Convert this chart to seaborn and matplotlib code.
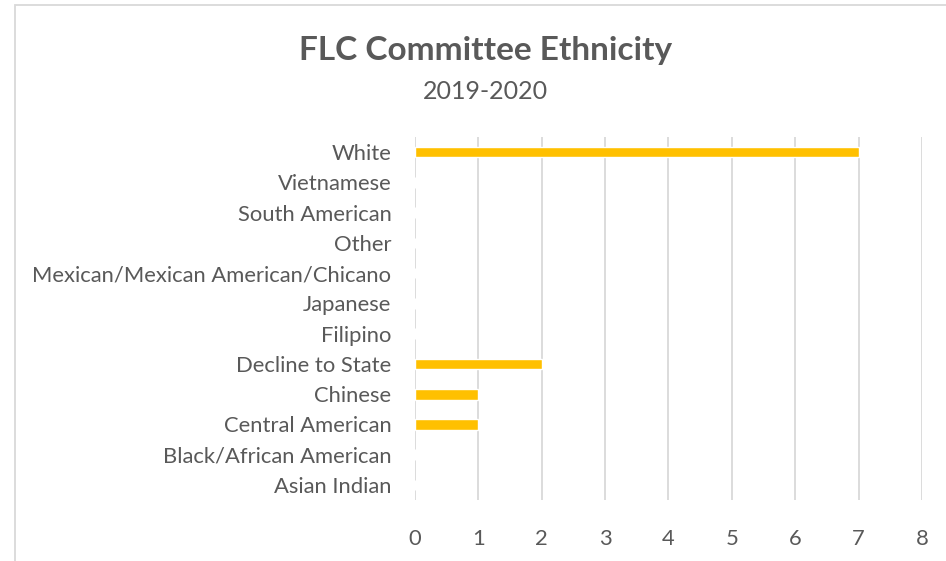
import matplotlib
matplotlib.use('Agg')
import matplotlib.pyplot as plt
import seaborn as sns
import pandas as pd
from matplotlib.patches import Rectangle

# data (top to bottom as shown)
categories = ['White', 'Vietnamese', 'South American', 'Other',
              'Mexican/Mexican American/Chicano', 'Japanese', 'Filipino',
              'Decline to State', 'Chinese', 'Central American',
              'Black/African American', 'Asian Indian']
counts = [7, 0, 0, 0, 0, 0, 0, 2, 1, 1, 0, 0]
x_ticks = [0, 1, 2, 3, 4, 5, 6, 7, 8]

df = pd.DataFrame({'ethnicity': categories, 'count': counts})

sns.set_theme(style='white')
plt.rcParams['font.family'] = ['Lato', 'DejaVu Sans']
txt = '#595959'
grid = '#D9D9D9'

fig = plt.figure(figsize=(9.46, 5.61), dpi=100)
ax = fig.add_axes([0.4387, 0.1087, 0.5359, 0.6471])

sns.barplot(data=df, x='count', y='ethnicity', order=categories,
            color='#FFC000', saturation=1, width=0.355, ax=ax)

ax.set_xlim(0, 8)
ax.set_xticks(x_ticks)
ax.set_xlabel('')
ax.set_ylabel('')
ax.xaxis.grid(True, color=grid, linewidth=1.3)
ax.set_axisbelow(True)
for s in ax.spines.values():
    s.set_visible(False)
ax.tick_params(axis='both', length=0, colors=txt, labelsize=15.8)
ax.tick_params(axis='y', pad=17)
ax.tick_params(axis='x', pad=21)

fig.text(0.513, 0.893, 'FLC Committee Ethnicity', ha='center', va='baseline',
         fontsize=24, fontweight='bold', color=txt)
fig.text(0.513, 0.8235, '2019-2020', ha='center', va='baseline',
         fontsize=18, color=txt)

# chart frame, partly cropped on the right and bottom
fig.patches.append(Rectangle((15 / 946, -0.1), 1.2, 1.1 - 5 / 561,
                             transform=fig.transFigure, fill=False,
                             edgecolor=grid, linewidth=1.3))

fig.savefig('out.png', dpi=100)
